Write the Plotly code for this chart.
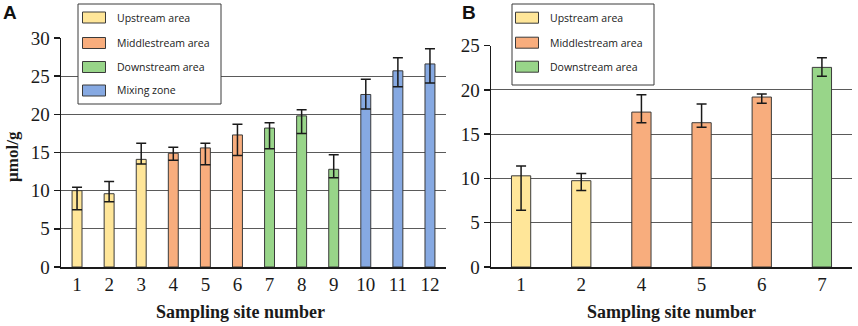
import plotly.graph_objects as go

# ---------------- data ----------------
sites_a = ["1", "2", "3", "4", "5", "6", "7", "8", "9", "10", "11", "12"]
values_a = [10.0, 9.6, 14.1, 14.9, 15.6, 17.3, 18.2, 19.8, 12.8, 22.6, 25.7, 26.6]
err_up_a = [0.45, 1.6, 2.1, 0.8, 0.6, 1.4, 0.7, 0.8, 1.9, 2.0, 1.7, 2.0]
err_dn_a = [2.5, 1.05, 0.6, 0.9, 2.2, 2.7, 2.7, 2.3, 1.1, 1.9, 2.1, 2.5]
zone_a = ["Upstream area"] * 3 + ["Middlestream area"] * 3 + ["Downstream area"] * 3 + ["Mixing zone"] * 3

sites_b = ["1", "2", "4", "5", "6", "7"]
values_b = [10.3, 9.75, 17.5, 16.3, 19.2, 22.55]
err_up_b = [1.1, 0.8, 1.95, 2.1, 0.35, 1.1]
err_dn_b = [3.9, 1.1, 1.2, 0.5, 0.7, 1.0]
zone_b = ["Upstream area"] * 2 + ["Middlestream area"] * 3 + ["Downstream area"]

zone_colors = {
    "Upstream area": "#FFE699",
    "Middlestream area": "#F8AD7D",
    "Downstream area": "#98D589",
    "Mixing zone": "#86A9E2",
}
legend_a = ["Upstream area", "Middlestream area", "Downstream area", "Mixing zone"]
legend_b = ["Upstream area", "Middlestream area", "Downstream area"]

yticks_a = [0, 5, 10, 15, 20, 25, 30]
yticks_b = [0, 5, 10, 15, 20, 25]

# ---------------- figure ----------------
W, H = 858, 326
fig = go.Figure()

err_style = dict(type="data", symmetric=False, color="#1a1a1a", thickness=1.5, width=5)

fig.add_trace(go.Bar(
    x=sites_a, y=values_a, width=0.31,
    marker=dict(color=[zone_colors[z] for z in zone_a], line=dict(color="#3a3a3a", width=1)),
    error_y=dict(array=err_up_a, arrayminus=err_dn_a, **err_style),
    xaxis="x", yaxis="y", showlegend=False, hoverinfo="skip",
))
fig.add_trace(go.Bar(
    x=sites_b, y=values_b, width=0.32,
    marker=dict(color=[zone_colors[z] for z in zone_b], line=dict(color="#3a3a3a", width=1)),
    error_y=dict(array=err_up_b, arrayminus=err_dn_b, **err_style),
    xaxis="x2", yaxis="y2", showlegend=False, hoverinfo="skip",
))

serif = "Liberation Serif"
tickfont = dict(family=serif, size=19, color="#1a1a1a")

def px_x(p):
    return p / W

def px_y(p):
    return (H - p) / H

y_bottom = px_y(267)
common_x = dict(type="category", showgrid=False, showline=True, linecolor="#1a1a1a",
                linewidth=1.5, ticks="", tickfont=tickfont, zeroline=False,
                automargin=False, fixedrange=True)
common_y = dict(showgrid=True, gridcolor="#5a5a5a", gridwidth=1, showline=True,
                linecolor="#1a1a1a", linewidth=1.5, ticks="outside", ticklen=6,
                tickcolor="#1a1a1a", tickwidth=1.5, tickfont=tickfont, zeroline=False,
                automargin=False, fixedrange=True)

fig.update_layout(
    template="none",
    width=W, height=H, autosize=False,
    margin=dict(l=0, r=0, t=0, b=0, pad=0, autoexpand=False),
    paper_bgcolor="white", plot_bgcolor="white",
    bargap=0.0, showlegend=False,
    xaxis=dict(domain=[px_x(61), px_x(446)], anchor="y", **common_x),
    yaxis=dict(domain=[y_bottom, px_y(38)], range=[0, 30], tickvals=yticks_a,
               anchor="x", **common_y),
    xaxis2=dict(domain=[px_x(491), px_x(852)], anchor="y2", **common_x),
    yaxis2=dict(domain=[y_bottom, px_y(45.7)], range=[0, 25], tickvals=yticks_b,
                anchor="x2", **common_y),
)

annotations = []
shapes = []

# panel letters
annotations.append(dict(text="<b>A</b>", x=px_x(10), y=px_y(12), xref="paper", yref="paper",
                        xanchor="center", yanchor="middle", showarrow=False,
                        font=dict(family="Liberation Sans", size=19, color="#111")))
annotations.append(dict(text="<b>B</b>", x=px_x(468.5), y=px_y(12), xref="paper", yref="paper",
                        xanchor="center", yanchor="middle", showarrow=False,
                        font=dict(family="Liberation Sans", size=19, color="#111")))

# axis titles
for cx in (px_x(240), px_x(671)):
    annotations.append(dict(text="<b>Sampling site number</b>", x=cx, y=px_y(312),
                            xref="paper", yref="paper", xanchor="center", yanchor="middle",
                            showarrow=False, font=dict(family=serif, size=18, color="#1a1a1a")))
annotations.append(dict(text="<b>µmol/g</b>", x=px_x(12), y=px_y(157), xref="paper", yref="paper",
                        xanchor="center", yanchor="middle", textangle=-90, showarrow=False,
                        font=dict(family=serif, size=17, color="#1a1a1a")))

# custom legends
def add_legend(names, box, sw_x0, text_x, centers):
    x0, y0, x1, y1 = box
    shapes.append(dict(type="rect", xref="paper", yref="paper",
                       x0=px_x(x0), x1=px_x(x1), y0=px_y(y1), y1=px_y(y0),
                       line=dict(color="#3a3a3a", width=1), fillcolor="white", layer="above"))
    for name, cy in zip(names, centers):
        shapes.append(dict(type="rect", xref="paper", yref="paper",
                           x0=px_x(sw_x0), x1=px_x(sw_x0 + 23),
                           y0=px_y(cy + 5.5), y1=px_y(cy - 5.5),
                           fillcolor=zone_colors[name], line=dict(color="#3a3a3a", width=1),
                           layer="above"))
        annotations.append(dict(text=name, x=px_x(text_x), y=px_y(cy), xref="paper", yref="paper",
                                xanchor="left", yanchor="middle", showarrow=False,
                                font=dict(family="Open Sans", size=10.5, color="#1a1a1a")))

add_legend(legend_a, (78, 4, 221, 104), 82.5, 115, [17.5, 43, 67, 90.5])
add_legend(legend_b, (512, 4, 654, 85), 515.5, 548, [17.7, 42.7, 66.7])

fig.update_layout(annotations=annotations, shapes=shapes)

fig.write_html("out.html", config={"displayModeBar": False, "staticPlot": True},
               post_script="document.body.style.margin='0';document.body.style.overflow='hidden';")
